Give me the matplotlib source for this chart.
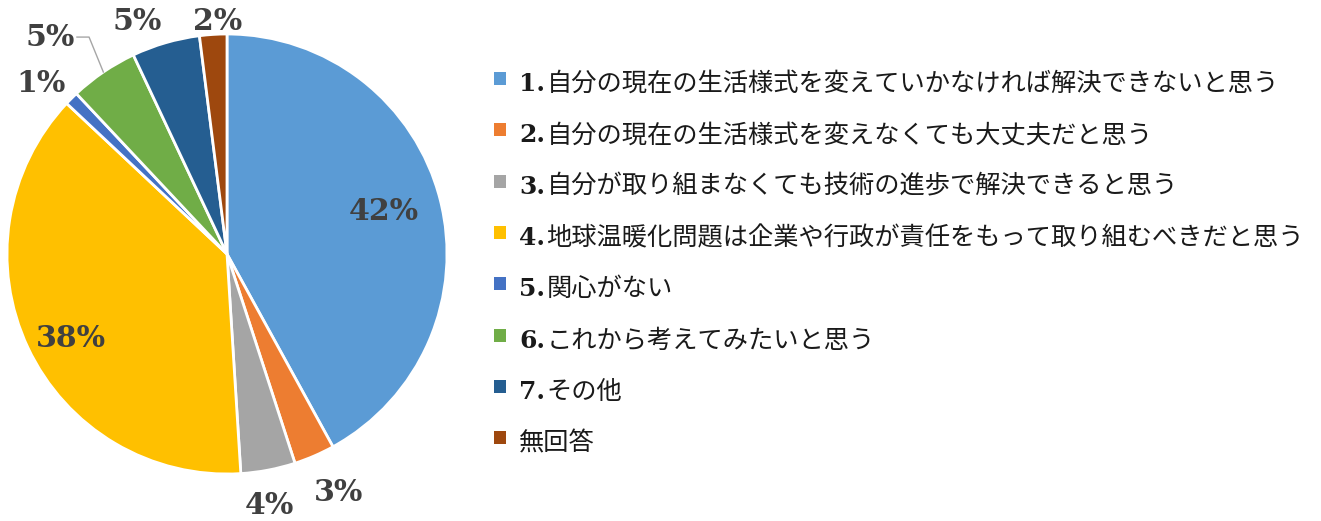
import matplotlib
matplotlib.use("Agg")
import matplotlib.pyplot as plt
import numpy as np
from matplotlib.patches import Rectangle

# survey answer shares (%), clockwise from 12 o'clock
shares = [42, 3, 4, 38, 1, 5, 5, 2]
numbers = ["1.", "2.", "3.", "4.", "5.", "6.", "7.", ""]
answers = [
    "自分の現在の生活様式を変えていかなければ解決できないと思う",
    "自分の現在の生活様式を変えなくても大丈夫だと思う",
    "自分が取り組まなくても技術の進歩で解決できると思う",
    "地球温暖化問題は企業や行政が責任をもって取り組むべきだと思う",
    "関心がない",
    "これから考えてみたいと思う",
    "その他",
    "無回答",
]
colors = ["#5B9BD5", "#ED7D31", "#A5A5A5", "#FFC000",
          "#4472C4", "#70AD47", "#255E91", "#9E480E"]

# where each percentage label sits, in pie units (radius = 1)
label_xy = [(0.714, 0.195), (0.509, -1.082), (0.195, -1.141), (-0.709, -0.382),
            (-0.845, 0.773), (-0.805, 0.986), (-0.409, 1.059), (-0.041, 1.059)]

W, H = 1321, 521
fig = plt.figure(figsize=(W / 100, H / 100), dpi=100)

cx, cy, r = 227, 254, 220
ax = fig.add_axes([(cx - r) / W, (H - cy - r) / H, 2 * r / W, 2 * r / H])
wedges, _ = ax.pie(shares, colors=colors, startangle=90, counterclock=False,
                   radius=1.0, wedgeprops=dict(edgecolor="white", linewidth=2))
ax.set_xlim(-1, 1)
ax.set_ylim(-1, 1)
ax.set_aspect("equal")
ax.axis("off")

for value, (lx, ly) in zip(shares, label_xy):
    ax.text(lx, ly, f"{value}%", ha="center", va="center", fontsize=21.5,
            family="DejaVu Serif", weight="bold", color="#404040", clip_on=False)

# leader line for the small green slice label
green = wedges[5]
mid = np.deg2rad((green.theta1 + green.theta2) / 2)
ax.plot([-0.682, -0.627, np.cos(mid)], [0.986, 0.986, np.sin(mid)],
        color="#A6A6A6", linewidth=1, clip_on=False)

# legend, drawn row by row so the numbers can use a serif face
base_y = 91
row_gap = 51.3
for i, (num, text, color) in enumerate(zip(numbers, answers, colors)):
    y = base_y + i * row_gap
    fig.add_artist(Rectangle((494 / W, (H - y + 6) / H), 12 / W, 13 / H,
                             facecolor=color, edgecolor="none",
                             transform=fig.transFigure))
    num_text = fig.text(519 / W, (H - y) / H, num, fontsize=18,
                        family="DejaVu Serif", weight="bold", color="#1a1a1a",
                        va="baseline", ha="left")
    if num:
        ax.annotate(text, xy=(1, (H - y) / H),
                    xycoords=(num_text, "figure fraction"),
                    xytext=(1, 0), textcoords="offset points",
                    fontsize=18.2, family=["Noto Sans CJK JP", "DejaVu Sans"],
                    color="#1a1a1a", va="baseline", ha="left",
                    annotation_clip=False)
    else:
        fig.text(519 / W, (H - y) / H, text, fontsize=18.2,
                 family=["Noto Sans CJK JP", "DejaVu Sans"], color="#1a1a1a",
                 va="baseline", ha="left")

fig.savefig("out.png", dpi=100)
